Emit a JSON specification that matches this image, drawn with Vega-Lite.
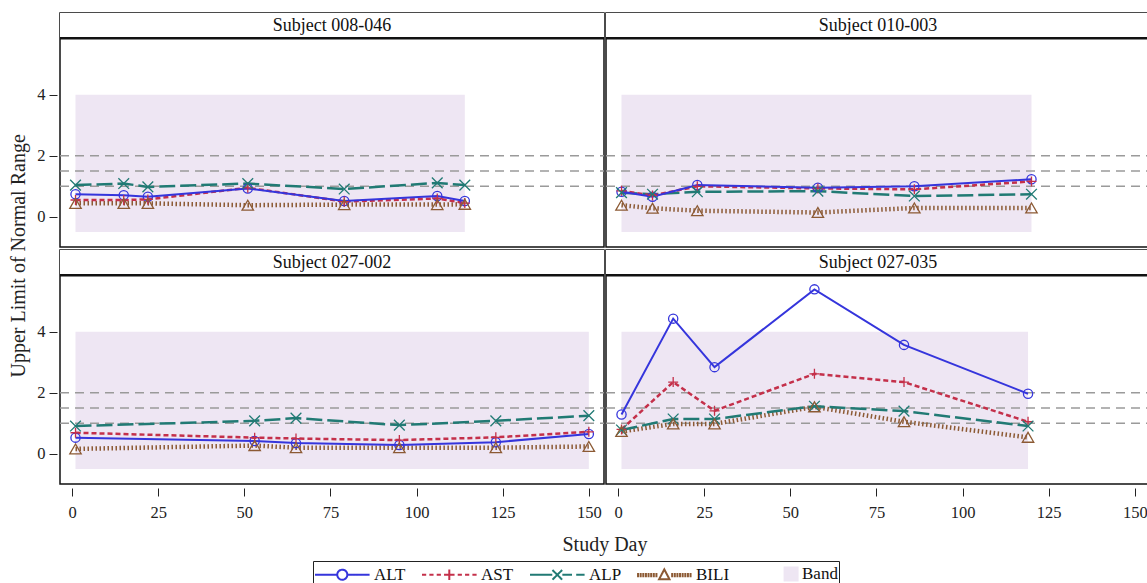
{
  "$schema": "https://vega.github.io/schema/vega-lite/v6.json",
  "background": "white",
  "padding": {"left": 8, "top": 11, "right": 0, "bottom": 0},
  "title": {"text": "Upper Limit of Normal Range", "orient": "left", "anchor": "middle", "font": "Liberation Serif", "fontSize": 20, "fontWeight": "normal", "color": "#222", "offset": 8, "dx": 43},
  "data": {"values": [
    {"subject": "Subject 008-046", "test": "ALT", "day": 1, "value": 0.74},
    {"subject": "Subject 008-046", "test": "ALT", "day": 15, "value": 0.71},
    {"subject": "Subject 008-046", "test": "ALT", "day": 22, "value": 0.66},
    {"subject": "Subject 008-046", "test": "ALT", "day": 51, "value": 0.93},
    {"subject": "Subject 008-046", "test": "ALT", "day": 79, "value": 0.52},
    {"subject": "Subject 008-046", "test": "ALT", "day": 106, "value": 0.68},
    {"subject": "Subject 008-046", "test": "ALT", "day": 114, "value": 0.52},
    {"subject": "Subject 008-046", "test": "AST", "day": 1, "value": 0.55},
    {"subject": "Subject 008-046", "test": "AST", "day": 15, "value": 0.55},
    {"subject": "Subject 008-046", "test": "AST", "day": 22, "value": 0.57},
    {"subject": "Subject 008-046", "test": "AST", "day": 51, "value": 0.95},
    {"subject": "Subject 008-046", "test": "AST", "day": 79, "value": 0.5},
    {"subject": "Subject 008-046", "test": "AST", "day": 106, "value": 0.6},
    {"subject": "Subject 008-046", "test": "AST", "day": 114, "value": 0.45},
    {"subject": "Subject 008-046", "test": "ALP", "day": 1, "value": 1.04},
    {"subject": "Subject 008-046", "test": "ALP", "day": 15, "value": 1.09},
    {"subject": "Subject 008-046", "test": "ALP", "day": 22, "value": 0.98},
    {"subject": "Subject 008-046", "test": "ALP", "day": 51, "value": 1.09},
    {"subject": "Subject 008-046", "test": "ALP", "day": 79, "value": 0.91},
    {"subject": "Subject 008-046", "test": "ALP", "day": 106, "value": 1.11},
    {"subject": "Subject 008-046", "test": "ALP", "day": 114, "value": 1.04},
    {"subject": "Subject 008-046", "test": "BILI", "day": 1, "value": 0.44},
    {"subject": "Subject 008-046", "test": "BILI", "day": 15, "value": 0.44},
    {"subject": "Subject 008-046", "test": "BILI", "day": 22, "value": 0.44},
    {"subject": "Subject 008-046", "test": "BILI", "day": 51, "value": 0.38},
    {"subject": "Subject 008-046", "test": "BILI", "day": 79, "value": 0.4},
    {"subject": "Subject 008-046", "test": "BILI", "day": 106, "value": 0.4},
    {"subject": "Subject 008-046", "test": "BILI", "day": 114, "value": 0.41},
    {"subject": "Subject 010-003", "test": "ALT", "day": 1, "value": 0.82},
    {"subject": "Subject 010-003", "test": "ALT", "day": 10, "value": 0.66},
    {"subject": "Subject 010-003", "test": "ALT", "day": 23, "value": 1.04},
    {"subject": "Subject 010-003", "test": "ALT", "day": 58, "value": 0.95},
    {"subject": "Subject 010-003", "test": "ALT", "day": 86, "value": 1.0},
    {"subject": "Subject 010-003", "test": "ALT", "day": 120, "value": 1.23},
    {"subject": "Subject 010-003", "test": "AST", "day": 1, "value": 0.85},
    {"subject": "Subject 010-003", "test": "AST", "day": 10, "value": 0.7},
    {"subject": "Subject 010-003", "test": "AST", "day": 23, "value": 1.0},
    {"subject": "Subject 010-003", "test": "AST", "day": 58, "value": 0.93},
    {"subject": "Subject 010-003", "test": "AST", "day": 86, "value": 0.9},
    {"subject": "Subject 010-003", "test": "AST", "day": 120, "value": 1.16},
    {"subject": "Subject 010-003", "test": "ALP", "day": 1, "value": 0.79},
    {"subject": "Subject 010-003", "test": "ALP", "day": 10, "value": 0.74},
    {"subject": "Subject 010-003", "test": "ALP", "day": 23, "value": 0.82},
    {"subject": "Subject 010-003", "test": "ALP", "day": 58, "value": 0.84},
    {"subject": "Subject 010-003", "test": "ALP", "day": 86, "value": 0.68},
    {"subject": "Subject 010-003", "test": "ALP", "day": 120, "value": 0.74},
    {"subject": "Subject 010-003", "test": "BILI", "day": 1, "value": 0.38},
    {"subject": "Subject 010-003", "test": "BILI", "day": 10, "value": 0.28},
    {"subject": "Subject 010-003", "test": "BILI", "day": 23, "value": 0.2},
    {"subject": "Subject 010-003", "test": "BILI", "day": 58, "value": 0.14},
    {"subject": "Subject 010-003", "test": "BILI", "day": 86, "value": 0.29},
    {"subject": "Subject 010-003", "test": "BILI", "day": 120, "value": 0.29},
    {"subject": "Subject 027-002", "test": "ALT", "day": 1, "value": 0.53},
    {"subject": "Subject 027-002", "test": "ALT", "day": 53, "value": 0.42},
    {"subject": "Subject 027-002", "test": "ALT", "day": 65, "value": 0.35},
    {"subject": "Subject 027-002", "test": "ALT", "day": 95, "value": 0.29},
    {"subject": "Subject 027-002", "test": "ALT", "day": 123, "value": 0.38},
    {"subject": "Subject 027-002", "test": "ALT", "day": 150, "value": 0.65},
    {"subject": "Subject 027-002", "test": "AST", "day": 1, "value": 0.69},
    {"subject": "Subject 027-002", "test": "AST", "day": 53, "value": 0.53},
    {"subject": "Subject 027-002", "test": "AST", "day": 65, "value": 0.5},
    {"subject": "Subject 027-002", "test": "AST", "day": 95, "value": 0.45},
    {"subject": "Subject 027-002", "test": "AST", "day": 123, "value": 0.54},
    {"subject": "Subject 027-002", "test": "AST", "day": 150, "value": 0.72},
    {"subject": "Subject 027-002", "test": "ALP", "day": 1, "value": 0.91},
    {"subject": "Subject 027-002", "test": "ALP", "day": 53, "value": 1.08},
    {"subject": "Subject 027-002", "test": "ALP", "day": 65, "value": 1.17},
    {"subject": "Subject 027-002", "test": "ALP", "day": 95, "value": 0.94},
    {"subject": "Subject 027-002", "test": "ALP", "day": 123, "value": 1.08},
    {"subject": "Subject 027-002", "test": "ALP", "day": 150, "value": 1.25},
    {"subject": "Subject 027-002", "test": "BILI", "day": 1, "value": 0.16},
    {"subject": "Subject 027-002", "test": "BILI", "day": 53, "value": 0.27},
    {"subject": "Subject 027-002", "test": "BILI", "day": 65, "value": 0.2},
    {"subject": "Subject 027-002", "test": "BILI", "day": 95, "value": 0.2},
    {"subject": "Subject 027-002", "test": "BILI", "day": 123, "value": 0.2},
    {"subject": "Subject 027-002", "test": "BILI", "day": 150, "value": 0.24},
    {"subject": "Subject 027-035", "test": "ALT", "day": 1, "value": 1.29},
    {"subject": "Subject 027-035", "test": "ALT", "day": 16, "value": 4.43},
    {"subject": "Subject 027-035", "test": "ALT", "day": 28, "value": 2.84},
    {"subject": "Subject 027-035", "test": "ALT", "day": 57, "value": 5.39},
    {"subject": "Subject 027-035", "test": "ALT", "day": 83, "value": 3.57},
    {"subject": "Subject 027-035", "test": "ALT", "day": 119, "value": 1.97},
    {"subject": "Subject 027-035", "test": "AST", "day": 1, "value": 0.8},
    {"subject": "Subject 027-035", "test": "AST", "day": 16, "value": 2.35},
    {"subject": "Subject 027-035", "test": "AST", "day": 28, "value": 1.41},
    {"subject": "Subject 027-035", "test": "AST", "day": 57, "value": 2.62},
    {"subject": "Subject 027-035", "test": "AST", "day": 83, "value": 2.35},
    {"subject": "Subject 027-035", "test": "AST", "day": 119, "value": 1.05},
    {"subject": "Subject 027-035", "test": "ALP", "day": 1, "value": 0.78},
    {"subject": "Subject 027-035", "test": "ALP", "day": 16, "value": 1.14},
    {"subject": "Subject 027-035", "test": "ALP", "day": 28, "value": 1.14},
    {"subject": "Subject 027-035", "test": "ALP", "day": 57, "value": 1.56},
    {"subject": "Subject 027-035", "test": "ALP", "day": 83, "value": 1.4},
    {"subject": "Subject 027-035", "test": "ALP", "day": 119, "value": 0.91},
    {"subject": "Subject 027-035", "test": "BILI", "day": 1, "value": 0.73},
    {"subject": "Subject 027-035", "test": "BILI", "day": 16, "value": 0.98},
    {"subject": "Subject 027-035", "test": "BILI", "day": 28, "value": 0.98},
    {"subject": "Subject 027-035", "test": "BILI", "day": 57, "value": 1.54},
    {"subject": "Subject 027-035", "test": "BILI", "day": 83, "value": 1.05},
    {"subject": "Subject 027-035", "test": "BILI", "day": 119, "value": 0.54}
  ]},
  "facet": {"field": "subject", "type": "nominal", "title": "Study Day",
    "header": {"labels": false, "labelExpr": "''", "labelPadding": 0, "labelFontSize": 1, "title": "Study Day", "titleOrient": "bottom", "titleFont": "Liberation Serif", "titleFontSize": 20, "titleFontWeight": "normal", "titleColor": "#222", "titlePadding": 14}},
  "columns": 2,
  "spacing": {"row": 0, "column": -3},
  "spec": {
    "width": 544,
    "height": 234,
    "layer": [
      {
        "transform": [{"aggregate": [{"op": "min", "field": "day", "as": "d0"}, {"op": "max", "field": "day", "as": "d1"}], "groupby": ["subject"]}],
        "layer": [
          {
            "mark": {"type": "rect", "fill": "#EEE6F3"},
            "encoding": {
              "x": {"field": "d0", "type": "quantitative", "title": null, "scale": {"domain": [-3.5, 154.4], "nice": false, "zero": false}, "axis": {"values": [0, 25, 50, 75, 100, 125, 150], "title": null}},
              "x2": {"field": "d1"},
              "y": {"datum": -0.5, "type": "quantitative", "title": null, "scale": {"domain": [-0.99, 6.68], "nice": false, "zero": false}, "axis": {"values": [0, 2, 4], "title": null}},
              "y2": {"datum": 4}
            }
          },
          {
            "mark": {"type": "rule", "stroke": "#9a9a9a", "strokeWidth": 1.5, "strokeDash": [9, 6]},
            "encoding": {"x": {"datum": -3.5, "type": "quantitative", "title": null}, "x2": {"datum": 154.4}, "y": {"datum": 1, "type": "quantitative", "title": null}}
          },
          {
            "mark": {"type": "rule", "stroke": "#9a9a9a", "strokeWidth": 1.5, "strokeDash": [9, 6]},
            "encoding": {"x": {"datum": -3.5, "type": "quantitative", "title": null}, "x2": {"datum": 154.4}, "y": {"datum": 1.5, "type": "quantitative", "title": null}}
          },
          {
            "mark": {"type": "rule", "stroke": "#9a9a9a", "strokeWidth": 1.5, "strokeDash": [9, 6]},
            "encoding": {"x": {"datum": -3.5, "type": "quantitative", "title": null}, "x2": {"datum": 154.4}, "y": {"datum": 2, "type": "quantitative", "title": null}}
          }
        ]
      },
      {
        "transform": [{"filter": "datum.test === 'BILI'"}],
        "mark": {"type": "line", "strokeWidth": 4.5, "strokeDash": [1.5, 2.5]},
        "encoding": {
          "x": {"field": "day", "type": "quantitative", "title": null},
          "y": {"field": "value", "type": "quantitative", "title": null},
          "color": {"field": "test", "type": "nominal", "title": null}
        }
      },
      {
        "transform": [{"filter": "datum.test === 'ALP'"}],
        "mark": {"type": "line", "strokeWidth": 2.5, "strokeDash": [16, 5]},
        "encoding": {
          "x": {"field": "day", "type": "quantitative", "title": null},
          "y": {"field": "value", "type": "quantitative", "title": null},
          "color": {"field": "test", "type": "nominal", "title": null}
        }
      },
      {
        "transform": [{"filter": "datum.test === 'AST'"}],
        "mark": {"type": "line", "strokeWidth": 2.5, "strokeDash": [5, 3]},
        "encoding": {
          "x": {"field": "day", "type": "quantitative", "title": null},
          "y": {"field": "value", "type": "quantitative", "title": null},
          "color": {"field": "test", "type": "nominal", "title": null}
        }
      },
      {
        "transform": [{"filter": "datum.test === 'ALT'"}],
        "mark": {"type": "line", "strokeWidth": 2},
        "encoding": {
          "x": {"field": "day", "type": "quantitative", "title": null},
          "y": {"field": "value", "type": "quantitative", "title": null},
          "color": {"field": "test", "type": "nominal", "title": null,
            "scale": {"domain": ["ALT", "AST", "ALP", "BILI", "Band"], "range": ["#3535dc", "#c4304a", "#217a74", "#8c5a34", "#EEE6F3"]},
            "legend": {
              "encode": {
                "symbols": {
                  "update": {
                    "shape": {"signal": "datum.value==='ALT' ? 'M-1,0H1.12M2.08,0H4.2M2.08,0A0.48,0.48 0 1,0 1.12,0A0.48,0.48 0 1,0 2.08,0Z' : datum.value==='AST' ? 'M-1,0H-0.6M-0.3,0H0.1M0.4,0H0.8M1.1,0H2.1M1.6,-0.5V0.5M2.4,0H2.8M3.1,0H3.5M3.8,0H4.2' : datum.value==='ALP' ? 'M-1,0H1.12M1.14,-0.46L2.06,0.46M1.14,0.46L2.06,-0.46M2.08,0H3.0M3.4,0H4.2' : datum.value==='BILI' ? 'M-0.9,-0.2V0.2M-0.65,-0.2V0.2M-0.4,-0.2V0.2M-0.15,-0.2V0.2M0.1,-0.2V0.2M0.35,-0.2V0.2M0.6,-0.2V0.2M0.85,-0.2V0.2M2.35,-0.2V0.2M2.6,-0.2V0.2M2.85,-0.2V0.2M3.1,-0.2V0.2M3.35,-0.2V0.2M3.6,-0.2V0.2M3.85,-0.2V0.2M4.1,-0.2V0.2M1.6,-0.55L2.1,0.4L1.1,0.4Z' : 'M2.96,-0.62H4.2V0.62H2.96Z'"},
                    "stroke": {"signal": "datum.value==='ALT' ? '#3535dc' : datum.value==='AST' ? '#c4304a' : datum.value==='ALP' ? '#217a74' : datum.value==='BILI' ? '#8c5a34' : '#777777'"},
                    "fill": {"signal": "datum.value==='Band' ? '#EEE6F3' : 'transparent'"},
                    "strokeWidth": {"value": 2},
                    "strokeDash": {"value": [1, 0]},
                    "opacity": {"value": 1}
                  }
                }
              }
            }
          }
        }
      },
      {
        "mark": {"type": "point", "filled": false, "strokeWidth": 1.3, "opacity": 1},
        "encoding": {
          "x": {"field": "day", "type": "quantitative", "title": null},
          "y": {"field": "value", "type": "quantitative", "title": null},
          "color": {"field": "test", "type": "nominal", "title": null},
          "shape": {"field": "test", "type": "nominal", "legend": null,
            "scale": {"domain": ["ALT", "AST", "ALP", "BILI"], "range": ["circle", "M-1,0H1M0,-1V1", "M-1,-1L1,1M-1,1L1,-1", "triangle-up"]}},
          "size": {"field": "test", "type": "ordinal", "legend": null,
            "scale": {"domain": ["ALT", "AST", "ALP", "BILI"], "range": [85, 130, 110, 85]}}
        }
      },
      {
        "transform": [{"aggregate": [{"op": "count", "as": "n"}], "groupby": ["subject"]}],
        "layer": [
          {
            "mark": {"type": "rect", "fill": "white"},
            "encoding": {"x": {"datum": -3.5, "type": "quantitative", "title": null}, "x2": {"datum": 154.4}, "y": {"datum": 5.85, "type": "quantitative", "title": null}, "y2": {"datum": 6.68}}
          },
          {
            "mark": {"type": "rule", "stroke": "#111", "strokeWidth": 2.5},
            "encoding": {"x": {"datum": -3.5, "type": "quantitative", "title": null}, "x2": {"datum": 154.4}, "y": {"datum": 5.85, "type": "quantitative", "title": null}}
          },
          {
            "mark": {"type": "text", "font": "Liberation Serif", "fontSize": 18, "color": "#111", "baseline": "middle", "align": "center"},
            "encoding": {"x": {"datum": 75.45, "type": "quantitative", "title": null}, "y": {"datum": 6.27, "type": "quantitative", "title": null}, "text": {"field": "subject"}}
          }
        ]
      }
    ]
  },
  "config": {
    "view": {"stroke": "#111", "strokeWidth": 1.5},
    "font": "Liberation Serif",
    "header": {"labels": false, "labelExpr": "''", "labelPadding": 0},
    "axis": {"labelFont": "Liberation Serif", "titleFont": "Liberation Serif", "labelFontSize": 16.5, "titleFontSize": 20, "titleFontWeight": "normal", "labelColor": "#222", "titleColor": "#222", "tickColor": "#222", "domain": false, "grid": false, "tickSize": 8},
    "axisX": {"offset": 3, "labelPadding": 8},
    "axisY": {"offset": 1, "labelPadding": 4},
    "legend": {"orient": "none", "legendX": 253, "legendY": 548, "direction": "horizontal", "columns": 5, "strokeColor": "#222", "padding": 1, "labelFont": "Liberation Serif", "labelFontSize": 17, "labelColor": "#111", "symbolSize": 441, "labelOffset": 37, "columnPadding": 12}
  }
}
